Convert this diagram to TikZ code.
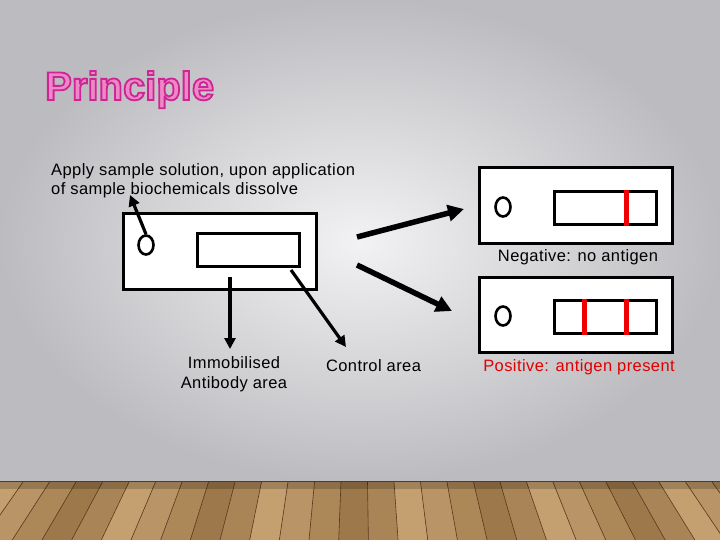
\documentclass[tikz,border=0pt]{standalone}
\usepackage{fontspec}
\setmainfont{Liberation Sans}
\usetikzlibrary{arrows.meta,shapes.geometric}
\definecolor{bgin}{HTML}{F2F2F4}
\definecolor{bgout}{HTML}{BCBCC0}
\definecolor{titlefill}{HTML}{EE86C8}
\definecolor{wood0}{HTML}{A98456}
\definecolor{wood1}{HTML}{B89466}
\definecolor{wood2}{HTML}{9C784A}
\definecolor{wood3}{HTML}{C4A070}
\definecolor{wood4}{HTML}{AC8758}
\definecolor{posred}{HTML}{E00000}
\definecolor{bandred}{HTML}{F00000}
\newcommand{\outlinedtext}[1]{\special{pdf:literal direct 2 Tr 1.8 w 0.80 0.15 0.58 RG}#1\special{pdf:literal direct 0 Tr}}
\begin{document}
\begin{tikzpicture}[x=1pt,y=-1pt,
  strip/.style={draw=black,line width=3pt,fill=white,minimum width=193pt,minimum height=75pt,inner sep=0pt},
  window/.style={draw=black,line width=3pt,fill=white,minimum width=102pt,minimum height=33pt,inner sep=0pt},
  well/.style={draw=black,line width=2.6pt,fill=white,ellipse,minimum width=15pt,minimum height=19pt,inner sep=0pt},
  band/.style={draw=bandred,line width=4.5pt},
  thinarr/.style={draw=black,line width=3.2pt,-{Triangle[length=11pt,width=11pt]}},
  bigarr/.style={draw=black,line width=5.5pt,-{Triangle[length=16pt,width=16pt]}},
  lbl/.style={font=\fontsize{16.5}{19.5}\selectfont\addfontfeature{LetterSpace=2.5},text=black,inner sep=0pt},
  titlefont/.style={font=\fontsize{40}{44}\bfseries\selectfont,inner sep=0pt,anchor=base west},
  plankline/.style={draw=black!55!brown,line width=0.6pt}
]
\useasboundingbox (0,0) rectangle (720,540);
% background
\shade[inner color=bgin,outer color=bgout] (0,0) rectangle (720,482);
% floor
\fill[wood0] (0,482) rectangle (720,540);
\foreach \i in {0,...,30}{
  \pgfmathsetmacro\xt{-30+26.5*\i}
  \pgfmathsetmacro\xn{\xt+26.5}
  \pgfmathsetmacro\bt{360+(\xt-360)*1.12}
  \pgfmathsetmacro\bn{360+(\xn-360)*1.12}
  \pgfmathtruncatemacro\k{mod(\i*3,5)}
  \fill[wood\k] (\xt,482) -- (\xn,482) -- (\bn,540) -- (\bt,540) -- cycle;
  \draw[plankline] (\xt,482) -- (\bt,540);
}
\fill[black,opacity=0.18] (0,482) rectangle (720,489);
\draw[black!75,line width=1.5pt] (0,481.5) -- (720,481.5);
% title
\node[titlefont,text=titlefill] (title) at (45,100) {\outlinedtext{Principle}};
% main strip
\node[strip] (main) at (219.5,251.5) {};
\node[well] (w0) at (146,245) {};
\node[window] (win0) at (248,250) {};
\node[lbl,anchor=base west,align=left] (apply) at (51,195) {Apply sample solution, upon application\\of sample biochemicals dissolve};
\coordinate (applytip) at (130,195);
\draw[thinarr] (w0.north) -- (applytip);
\coordinate (immstart) at (230,277);
\coordinate (immtip) at (230,349);
\draw[thinarr] (immstart) -- (immtip);
\coordinate (ctlstart) at (291,270);
\coordinate (ctltip) at (346,347);
\draw[thinarr] (ctlstart) -- (ctltip);
\node[lbl,anchor=base,align=center] (imm) at (234,388) {Immobilised\\Antibody area};
\node[lbl,anchor=base] (ctl) at (373.5,371) {Control area};
% band positions
\coordinate (bxa) at (584.5,0);
\coordinate (bxb) at (626.5,0);
% negative strip
\node[strip] (neg) at (576,205.5) {};
\node[well] (w1) at (503,207) {};
\node[window] (win1) at (605,208.5) {};
\draw[band] (win1.north -| bxb) -- (win1.south -| bxb);
\node[lbl,anchor=base] (neglbl) at (578,261) {Negative: no antigen};
% positive strip
\node[strip] (pos) at (576,314.5) {};
\node[well] (w2) at (503,316) {};
\node[window] (win2) at (605,316.5) {};
\draw[band] (win2.north -| bxa) -- (win2.south -| bxa);
\draw[band] (win2.north -| bxb) -- (win2.south -| bxb);
\node[lbl,anchor=base,text=posred] (poslbl) at (579,371) {Positive: antigen present};
% big arrows
\coordinate (b1s) at (357,237);
\coordinate (b1e) at (464,209);
\coordinate (b2s) at (357,265);
\coordinate (b2e) at (452,311);
\draw[bigarr] (b1s) -- (b1e);
\draw[bigarr] (b2s) -- (b2e);
\end{tikzpicture}
\end{document}
